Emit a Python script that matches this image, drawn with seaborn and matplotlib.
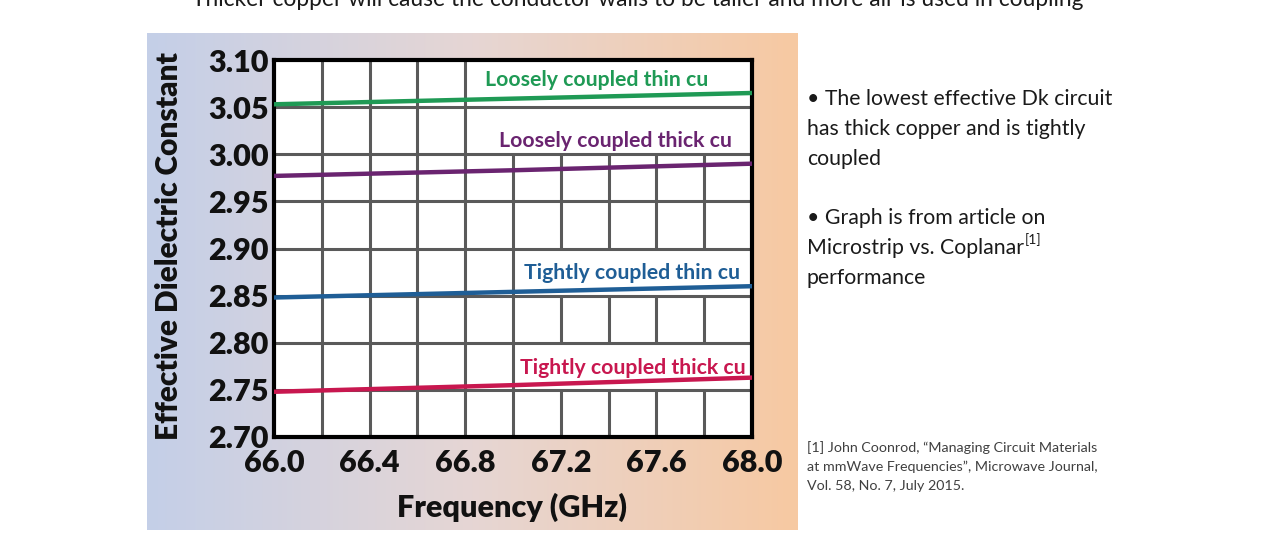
import matplotlib
matplotlib.use("Agg")
import matplotlib.pyplot as plt
from matplotlib.colors import LinearSegmentedColormap
import numpy as np
import pandas as pd
import seaborn as sns

# values
freq = [66.0, 67.0, 68.0]
loose_thin = [3.053, 3.059, 3.065]
loose_thick = [2.977, 2.983, 2.990]
tight_thin = [2.848, 2.854, 2.860]
tight_thick = [2.748, 2.755, 2.763]

series_names = ["Loosely coupled thin cu", "Loosely coupled thick cu",
                "Tightly coupled thin cu", "Tightly coupled thick cu"]
series_colors = ["#1f9a55", "#6a2470", "#1f5e96", "#c8174f"]

x_ticks = [66.0, 66.4, 66.8, 67.2, 67.6, 68.0]
y_ticks = [2.70, 2.75, 2.80, 2.85, 2.90, 2.95, 3.00, 3.05, 3.10]

df = pd.DataFrame({
    "freq": freq * 4,
    "dk": loose_thin + loose_thick + tight_thin + tight_thick,
    "series": sum([[n] * len(freq) for n in series_names], []),
})

sns.set_theme(style="white")
plt.rcParams['font.family'] = ['Lato', 'DejaVu Sans']

W, H = 1274, 543
fig = plt.figure(figsize=(W / 100, H / 100), dpi=100)
fig.patch.set_facecolor("white")

# gradient panel behind the chart
bg = fig.add_axes([147 / W, 1 - 530 / H, 650 / W, 497 / H])
cmap = LinearSegmentedColormap.from_list("bg", ["#c4cfe8", "#e6d6d4", "#f7c9a2"])
bg.imshow(np.linspace(0, 1, 256)[None, :], aspect="auto", cmap=cmap)
bg.axis("off")

ax = fig.add_axes([274 / W, 1 - 437 / H, 478 / W, 377 / H])
ax.set_facecolor("white")

# grid drawn by hand so it can be cleared behind the labels
for y in y_ticks[1:-1]:
    ax.axhline(y, color="#5a5a5a", lw=2.2, zorder=1)
clear = [(67.0, 3.00, 3.10), (67.2, 2.85, 2.90), (67.2, 2.75, 2.80)]
grid_x = np.round(np.arange(66.2, 67.81, 0.2), 1)
for x in grid_x:
    gaps = sorted((lo, hi) for x0, lo, hi in clear if x >= x0 - 1e-9)
    start = 2.70
    for lo, hi in gaps:
        if lo > start:
            ax.vlines(x, start, lo, color="#5a5a5a", lw=2.2, zorder=1)
        start = hi
    if start < 3.10:
        ax.vlines(x, start, 3.10, color="#5a5a5a", lw=2.2, zorder=1)

sns.lineplot(data=df, x="freq", y="dk", hue="series", hue_order=series_names,
             palette=series_colors, linewidth=3.2, legend=False, ax=ax, zorder=3)

label_pos = [(67.35, 3.079), (67.43, 3.014), (67.50, 2.874), (67.50, 2.773)]
for name, col, (lx, ly) in zip(series_names, series_colors, label_pos):
    ax.text(lx, ly, name, color=col, fontsize=15.3, fontweight="bold",
            ha="center", va="center", zorder=4)

ax.set_xlim(66.0, 68.0)
ax.set_ylim(2.70, 3.10)
ax.set_xticks(x_ticks)
ax.set_yticks(y_ticks)
ax.set_xticklabels([f"{v:.1f}" for v in x_ticks])
ax.set_yticklabels([f"{v:.2f}" for v in y_ticks])
ax.tick_params(axis="both", length=0, labelsize=22, colors="#111111")
ax.tick_params(axis="y", pad=4)
ax.tick_params(axis="x", pad=9)
for lab in ax.get_xticklabels() + ax.get_yticklabels():
    lab.set_fontweight("heavy")
for s in ax.spines.values():
    s.set_color("black")
    s.set_linewidth(3)
    s.set_visible(True)

ax.set_xlabel("Frequency (GHz)", fontsize=22, fontweight="heavy", color="#111111")
ax.set_ylabel("Effective Dielectric Constant", fontsize=21.5, fontweight="heavy", color="#111111")
ax.xaxis.set_label_coords(0.498, -0.148)
ax.yaxis.set_label_coords(-0.19, 0.507)

# slide text (cut at the top edge, as on the slide)
fig.text(192 / W, 1 - 6 / H, "Thicker copper will cause the conductor walls to be taller and more air is used in coupling",
         fontsize=16.4, color="#1a1a1a", va="baseline", ha="left")

bullets = [
    (99, "• The lowest effective Dk circuit"),
    (129, "has thick copper and is tightly"),
    (159, "coupled"),
    (218, "• Graph is from article on"),
    (248, "Microstrip vs. Coplanar"),
    (278, "performance"),
]
texts = {}
for y, t in bullets:
    texts[t] = fig.text(807 / W, 1 - y / H, t, fontsize=15.3, color="#1a1a1a", va="center", ha="left")

fig.canvas.draw()
bb = texts["Microstrip vs. Coplanar"].get_window_extent()
fig.text(bb.x1 / W + 1 / W, 1 - 240 / H, "[1]", fontsize=10, color="#1a1a1a", va="center", ha="left")

foot = ["[1] John Coonrod, \u201cManaging Circuit Materials",
        "at mmWave Frequencies\u201d, Microwave Journal,",
        "Vol. 58, No. 7, July 2015."]
for i, t in enumerate(foot):
    fig.text(807 / W, 1 - (448 + 19 * i) / H, t, fontsize=10.3, color="#404040", va="center", ha="left")

fig.savefig("out.png", dpi=100)
